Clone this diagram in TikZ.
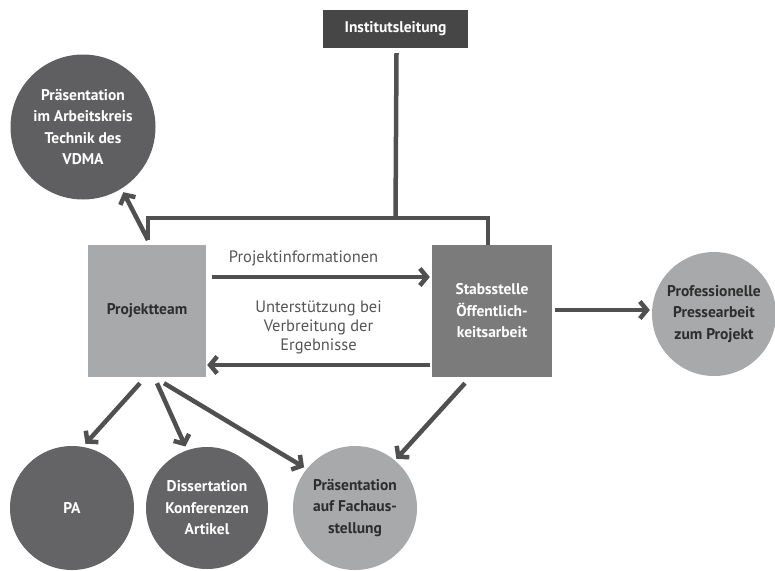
\documentclass[tikz,border=0pt]{standalone}
\usepackage{fontspec}
\setmainfont{PT Sans}
\usetikzlibrary{arrows.meta,calc}
\definecolor{boxdark}{RGB}{70,70,70}
\definecolor{boxmid}{RGB}{123,123,123}
\definecolor{boxlight}{RGB}{168,169,171}
\definecolor{circdark}{RGB}{100,100,102}
\definecolor{arrowgray}{RGB}{80,80,80}
\definecolor{labelgray}{RGB}{85,85,85}
\definecolor{textdark}{RGB}{45,45,45}

\begin{document}
\begin{tikzpicture}[x=1pt, y=-1pt,
  every node/.style={font=\bfseries\fontsize{15.5}{21.5}\selectfont, align=center, inner sep=0pt},
  conn/.style={draw=arrowgray, line width=4.5pt},
  arr/.style={conn, -{Straight Barb[length=7pt, width=17pt]}},
  lbl/.style={font=\fontsize{16.5}{19}\selectfont, text=labelgray}]
\useasboundingbox (0,0) rectangle (775,570);
% boxes
\node[fill=boxdark, text=white, minimum width=145pt, minimum height=38pt] (inst) at (395.5,29) {Institutsleitung};
\node[fill=boxlight, text=textdark, minimum width=118pt, minimum height=132pt] (team) at (147,311) {Projektteam};
\node[fill=boxmid, text=white, minimum width=120pt, minimum height=132pt] (stab) at (492,311) {Stabsstelle\\Öffentlich-\\keitsarbeit};
% circles
\node[circle, fill=circdark!95!black, text=white, minimum size=145pt] (vdma) at (83,127) {Präsentation\\im Arbeitskreis\\Technik des\\VDMA};
\node[circle, fill=boxlight, text=textdark, minimum size=124pt] (press) at (714,314) {Professionelle\\Pressearbeit\\zum Projekt};
\node[circle, fill=circdark, text=white, minimum size=124pt] (pa) at (72,508) {PA};
\node[circle, fill=circdark, text=white, minimum size=122pt] (diss) at (207,508) {Dissertation\\Konferenzen\\Artikel};
\node[circle, fill=boxlight, text=textdark, minimum size=124pt] (fach) at (355,508) {Präsentation\\auf Fachaus-\\stellung};
% bracket to Institutsleitung
\coordinate (bl) at (148,218);
\coordinate (br) at (488,218);
\coordinate (tt) at (148,240);
\draw[conn] (tt) -- (bl) -- (br) -- (br |- stab.north);
\draw[conn] ($(inst.south)+(1,5)$) -- (inst.south |- bl);
\draw[arr, shorten >=4pt] (tt) -- (vdma.-58);
% between team and stab
\draw[arr] ($(team.east)+(6,-34)$) -- ($(stab.west)+(-2,-34)$) node[lbl, pos=0.42, above=9pt] {Projektinformationen};
\draw[arr] ($(stab.west)+(-2,54)$) -- ($(team.east)+(1,54)$) node[lbl, midway, above=9pt] {Unterstützung bei\\Verbreitung der\\Ergebnisse};
\draw[arr] ($(stab.east)+(3,-1)$) -- ($(press.west)+(-2,-4)$);
% outputs
\draw[arr, shorten >=4pt] ($(team.south)+(-7,6)$) -- (pa.80);
\draw[arr, shorten >=4pt] ($(team.south)+(10,6)$) -- (diss.109);
\draw[arr, shorten >=3pt] ($(team.south)+(17,6)$) -- (fach.141);
\draw[arr, shorten >=2pt] ($(stab.south)+(-27,6)$) -- (fach.50);
\end{tikzpicture}
\end{document}
